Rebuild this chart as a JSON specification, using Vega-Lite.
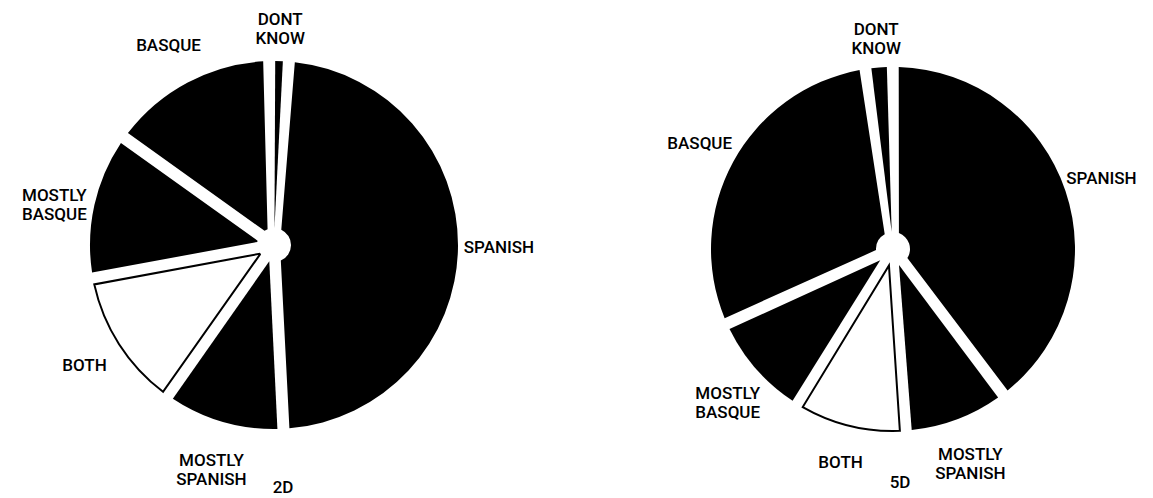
{
  "$schema": "https://vega.github.io/schema/vega-lite/v6.json",
  "padding": 0,
  "spacing": 85,
  "background": "white",
  "config": {"view": {"stroke": null}, "font": "Roboto"},
  "hconcat": [
    {
      "width": 548,
      "height": 490,
      "title": {"text": "2D", "orient": "bottom", "offset": -10, "dx": 9, "fontSize": 17, "fontWeight": 500, "font": "Roboto", "color": "black"},
      "data": {"values": [
        {"k": 1, "answer": "DONT KNOW", "pct": 1.7},
        {"k": 2, "answer": "SPANISH", "pct": 47.9},
        {"k": 3, "answer": "MOSTLY SPANISH", "pct": 10.6},
        {"k": 4, "answer": "BOTH", "pct": 12.3},
        {"k": 5, "answer": "MOSTLY BASQUE", "pct": 12.8},
        {"k": 6, "answer": "BASQUE", "pct": 14.7}
      ]},
      "encoding": {
        "theta": {"field": "pct", "type": "quantitative", "stack": true, "scale": {"range": [-0.026, 6.257]}},
        "order": {"field": "k", "type": "quantitative"}
      },
      "layer": [
        {
          "mark": {"type": "arc", "outerRadius": 184, "innerRadius": 17, "padAngle": 0.065, "strokeWidth": 2, "strokeJoin": "miter"},
          "encoding": {
            "color": {"field": "answer", "type": "nominal", "legend": null,
              "scale": {"domain": ["DONT KNOW", "SPANISH", "MOSTLY SPANISH", "BOTH", "MOSTLY BASQUE", "BASQUE"],
                        "range": ["black", "black", "black", "white", "black", "black"]}},
            "stroke": {"condition": {"test": "datum.answer === 'BOTH'", "value": "black"}, "value": null}
          }
        },
        {
          "mark": {"type": "text", "radius": 225, "lineBreak": " ", "fontSize": 17, "fontWeight": 500, "lineHeight": 19, "color": "black", "align": "center", "baseline": "middle", "font": "Roboto"},
          "encoding": {"text": {"field": "answer", "type": "nominal"}}
        }
      ]
    },
    {
      "width": 520,
      "height": 498,
      "title": {"text": "5D", "orient": "bottom", "offset": -23, "dx": 7, "fontSize": 17, "fontWeight": 500, "font": "Roboto", "color": "black"},
      "data": {"values": [
        {"k": 1, "answer": "DONT KNOW", "pct": 2.4},
        {"k": 2, "answer": "SPANISH", "pct": 39.7},
        {"k": 3, "answer": "MOSTLY SPANISH", "pct": 9.2},
        {"k": 4, "answer": "BOTH", "pct": 9.9},
        {"k": 5, "answer": "MOSTLY BASQUE", "pct": 9.5},
        {"k": 6, "answer": "BASQUE", "pct": 29.3}
      ]},
      "encoding": {
        "theta": {"field": "pct", "type": "quantitative", "stack": true, "scale": {"range": [-0.152, 6.131]}},
        "order": {"field": "k", "type": "quantitative"}
      },
      "layer": [
        {
          "mark": {"type": "arc", "outerRadius": 182, "innerRadius": 17, "padAngle": 0.065, "strokeWidth": 2, "strokeJoin": "miter"},
          "encoding": {
            "color": {"field": "answer", "type": "nominal", "legend": null,
              "scale": {"domain": ["DONT KNOW", "SPANISH", "MOSTLY SPANISH", "BOTH", "MOSTLY BASQUE", "BASQUE"],
                        "range": ["black", "black", "black", "white", "black", "black"]}},
            "stroke": {"condition": {"test": "datum.answer === 'BOTH'", "value": "black"}, "value": null}
          }
        },
        {
          "mark": {"type": "text", "radius": 220, "lineBreak": " ", "fontSize": 17, "fontWeight": 500, "lineHeight": 19, "color": "black", "align": "center", "baseline": "middle", "font": "Roboto"},
          "encoding": {"text": {"field": "answer", "type": "nominal"}}
        }
      ]
    }
  ]
}
